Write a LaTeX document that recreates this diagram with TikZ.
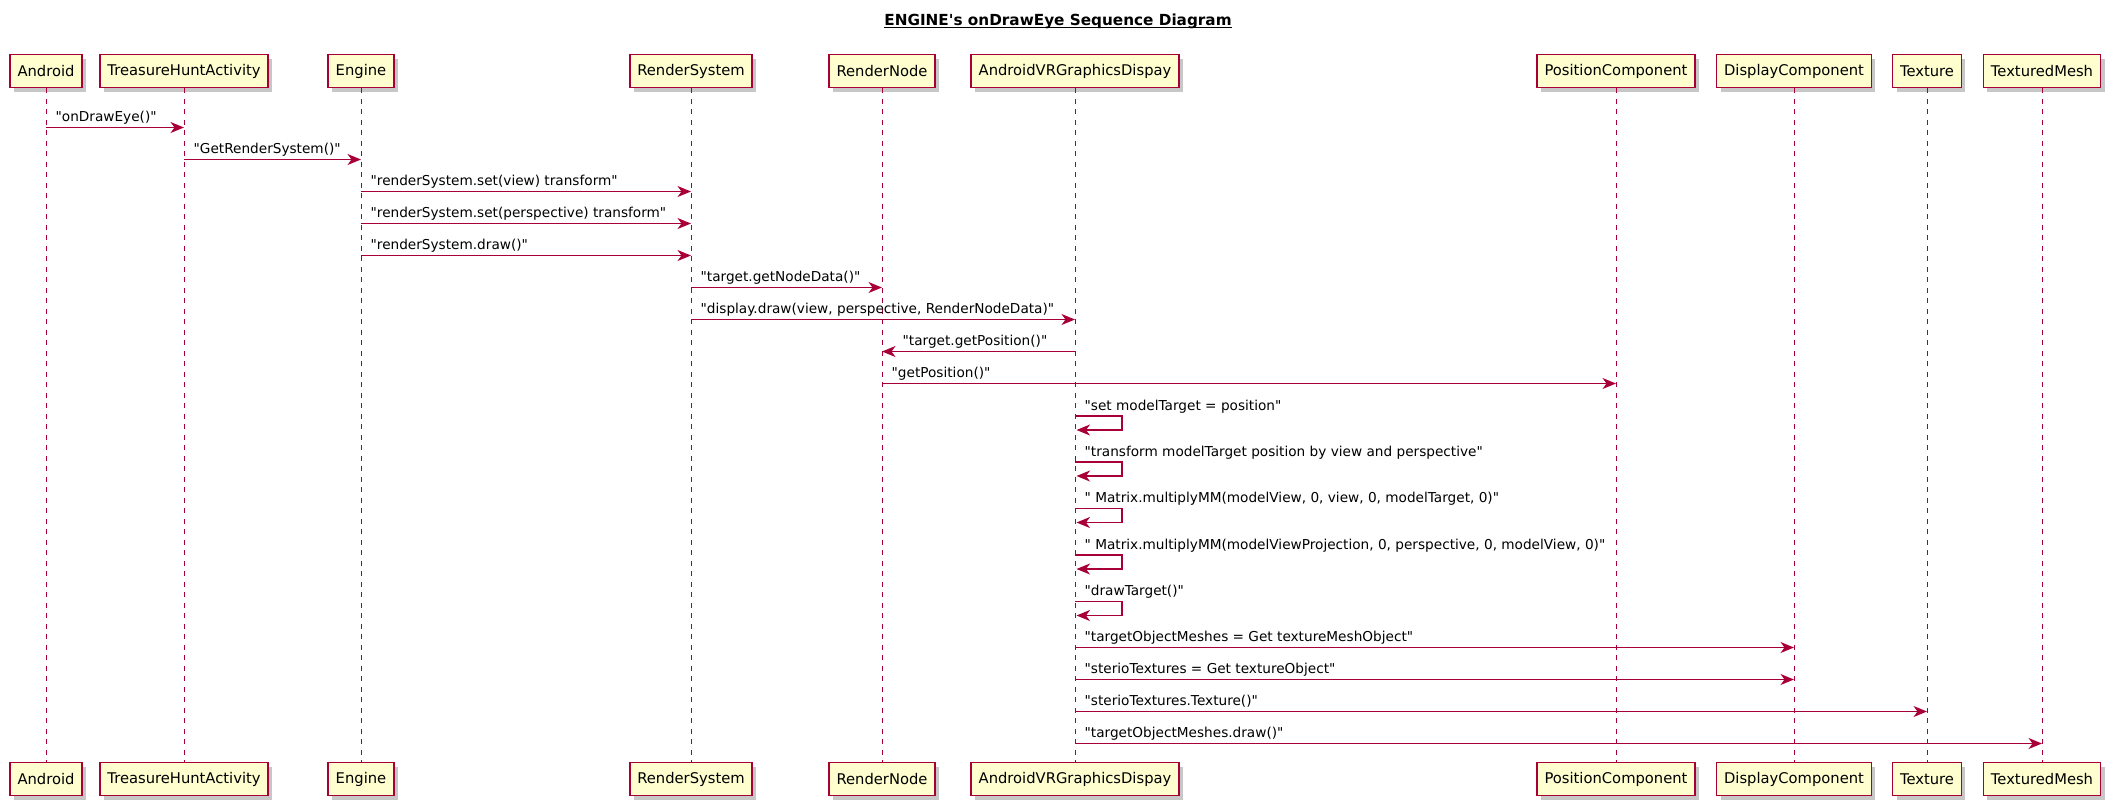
\documentclass[tikz,border=0pt]{standalone}
\usepackage{fontspec}
\newfontfamily\umlfont{DejaVu Sans}
\usetikzlibrary{arrows.meta,shadows}
\definecolor{umlred}{HTML}{A80036}
\definecolor{umlfill}{HTML}{FEFECE}
\tikzset{
  partbox/.style={draw=umlred, fill=umlfill, line width=1pt, minimum height=0.66cm,
    inner xsep=0.15cm, inner ysep=0pt, font=\umlfont\fontsize{8.39}{10}\selectfont,
    drop shadow={shadow xshift=0.08cm, shadow yshift=-0.08cm, fill=black, opacity=0.22}},
  lifeline/.style={umlred, line width=0.55pt, dash pattern=on 0.1cm off 0.11cm},
  msg/.style={umlred, line width=0.75pt, -{Stealth[length=0.27cm,width=0.22cm,inset=0.08cm]}},
  msglabel/.style={anchor=base west, inner sep=0pt, xshift=0.18cm, yshift=0.12cm, text=black,
    font=\umlfont\fontsize{7.77}{9}\selectfont}
}

\begin{document}
\begin{tikzpicture}[x=0.02cm, y=-0.02cm]
\useasboundingbox (0,0) rectangle (2114,806);
\node[anchor=base, inner sep=0pt, font=\umlfont\bfseries\fontsize{8.68}{10}\selectfont] (title) at (1058,25.5) {ENGINE's onDrawEye Sequence Diagram};
\draw[black, line width=0.6pt] ([yshift=-0.04cm]title.base west) -- ([yshift=-0.04cm]title.base east);

% participants on top
\node[partbox] (andr) at (46,71) {Android};
\node[partbox] (hunt) at (184,71) {TreasureHuntActivity};
\node[partbox] (eng) at (361,71) {Engine};
\node[partbox] (rsys) at (691,71) {RenderSystem};
\node[partbox] (rnode) at (882,71) {RenderNode};
\node[partbox] (vrdisp) at (1075,71) {AndroidVRGraphicsDispay};
\node[partbox] (pos) at (1616,71) {PositionComponent};
\node[partbox] (disp) at (1794,71) {DisplayComponent};
\node[partbox] (tex) at (1927,71) {Texture};
\node[partbox] (mesh) at (2042,71) {TexturedMesh};

% participants at the bottom
\node[partbox] (andrB) at (46,779) {Android};
\node[partbox] (huntB) at (184,779) {TreasureHuntActivity};
\node[partbox] (engB) at (361,779) {Engine};
\node[partbox] (rsysB) at (691,779) {RenderSystem};
\node[partbox] (rnodeB) at (882,779) {RenderNode};
\node[partbox] (vrdispB) at (1075,779) {AndroidVRGraphicsDispay};
\node[partbox] (posB) at (1616,779) {PositionComponent};
\node[partbox] (dispB) at (1794,779) {DisplayComponent};
\node[partbox] (texB) at (1927,779) {Texture};
\node[partbox] (meshB) at (2042,779) {TexturedMesh};

% lifelines
\draw[lifeline] (andr) -- (andrB);
\draw[lifeline] (hunt) -- (huntB);
\draw[lifeline] (eng) -- (engB);
\draw[lifeline] (rsys) -- (rsysB);
\draw[lifeline] (rnode) -- (rnodeB);
\draw[lifeline] (vrdisp) -- (vrdispB);
\draw[lifeline] (pos) -- (posB);
\draw[lifeline] (disp) -- (dispB);
\draw[lifeline] (tex) -- (texB);
\draw[lifeline] (mesh) -- (meshB);

% messages
\draw[msg] (andr |- 0,127.5) node[msglabel] {"onDrawEye()"} -- (hunt |- 0,127.5);
\draw[msg] (hunt |- 0,159.5) node[msglabel] {"GetRenderSystem()"} -- (eng |- 0,159.5);
\draw[msg] (eng |- 0,191.5) node[msglabel] {"renderSystem.set(view) transform"} -- (rsys |- 0,191.5);
\draw[msg] (eng |- 0,223.5) node[msglabel] {"renderSystem.set(perspective) transform"} -- (rsys |- 0,223.5);
\draw[msg] (eng |- 0,255.5) node[msglabel] {"renderSystem.draw()"} -- (rsys |- 0,255.5);
\draw[msg] (rsys |- 0,287.5) node[msglabel] {"target.getNodeData()"} -- (rnode |- 0,287.5);
\draw[msg] (rsys |- 0,319.5) node[msglabel] {"display.draw(view, perspective, RenderNodeData)"} -- (vrdisp |- 0,319.5);
\draw[msg] (vrdisp |- 0,351.5) -- (rnode |- 0,351.5) node[msglabel, xshift=0.22cm] {"target.getPosition()"};
\draw[msg] (rnode |- 0,383.5) node[msglabel] {"getPosition()"} -- (pos |- 0,383.5);

% calls to itself
\draw[msg] (vrdisp |- 0,416) node[msglabel] {"set modelTarget = position"} -- ++(47,0) -- ++(0,14) -- ++(-45.5,0);
\draw[msg] (vrdisp |- 0,462) node[msglabel] {"transform modelTarget position by view and perspective"} -- ++(47,0) -- ++(0,14) -- ++(-45.5,0);
\draw[msg] (vrdisp |- 0,508.5) node[msglabel] {" Matrix.multiplyMM(modelView, 0, view, 0, modelTarget, 0)"} -- ++(47,0) -- ++(0,14) -- ++(-45.5,0);
\draw[msg] (vrdisp |- 0,555) node[msglabel] {" Matrix.multiplyMM(modelViewProjection, 0, perspective, 0, modelView, 0)"} -- ++(47,0) -- ++(0,14) -- ++(-45.5,0);
\draw[msg] (vrdisp |- 0,601.5) node[msglabel] {"drawTarget()"} -- ++(47,0) -- ++(0,14) -- ++(-45.5,0);

\draw[msg] (vrdisp |- 0,647.5) node[msglabel] {"targetObjectMeshes = Get textureMeshObject"} -- (disp |- 0,647.5);
\draw[msg] (vrdisp |- 0,679.5) node[msglabel] {"sterioTextures = Get textureObject"} -- (disp |- 0,679.5);
\draw[msg] (vrdisp |- 0,711.5) node[msglabel] {"sterioTextures.Texture()"} -- (tex |- 0,711.5);
\draw[msg] (vrdisp |- 0,743.5) node[msglabel] {"targetObjectMeshes.draw()"} -- (mesh |- 0,743.5);

\end{tikzpicture}
\end{document}
